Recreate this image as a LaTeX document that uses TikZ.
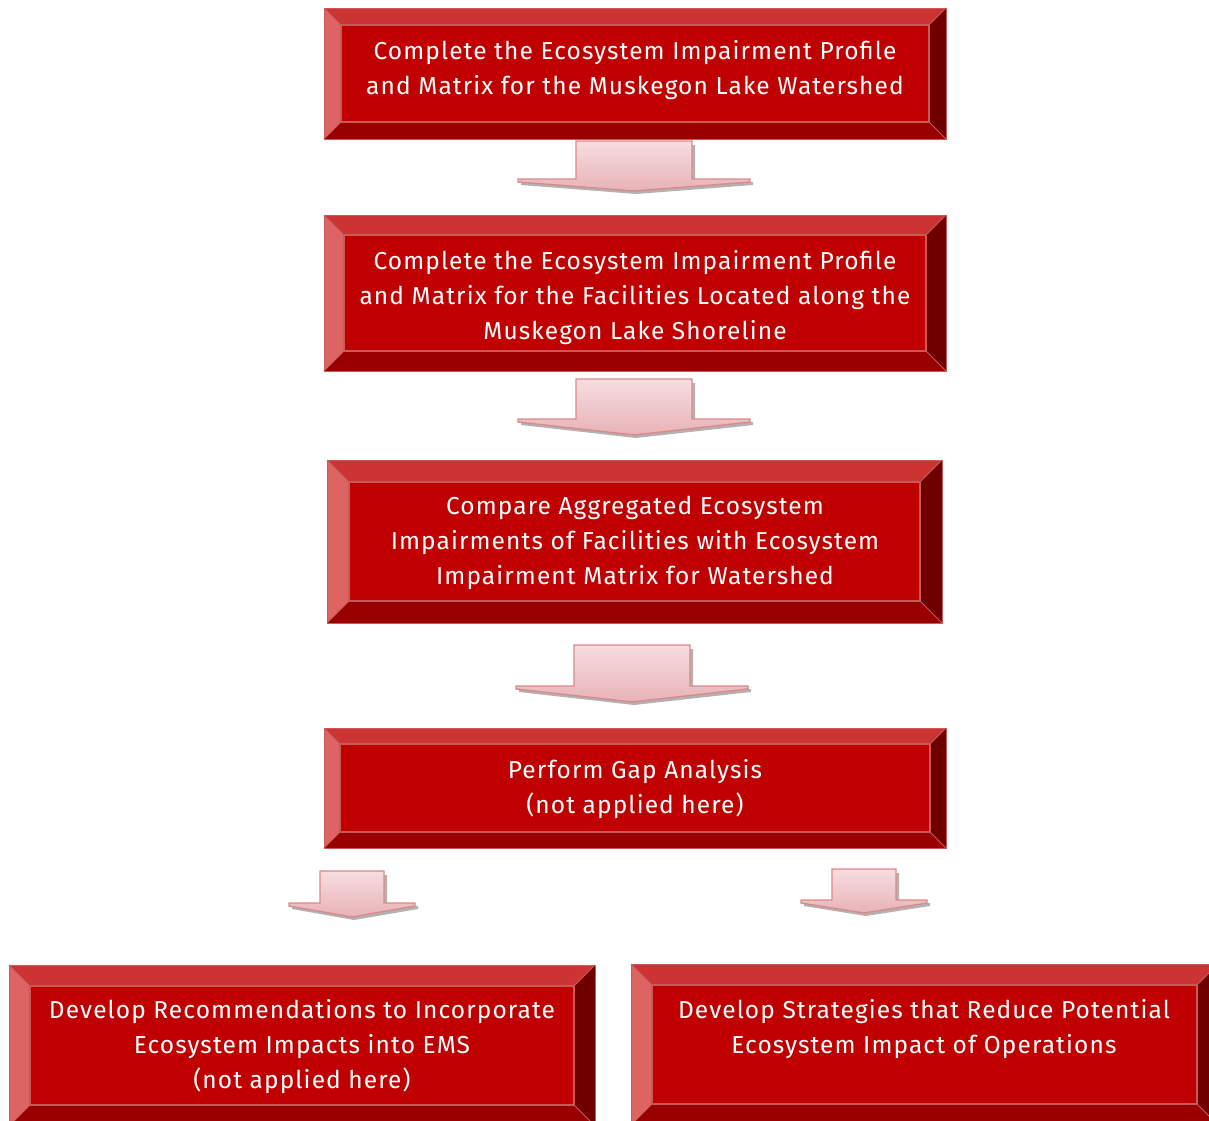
\documentclass[tikz,border=0pt]{standalone}
\usepackage{fontspec}
\setmainfont{Fira Sans}[LetterSpace=4.5]
\definecolor{innerred}{HTML}{C00000}
\definecolor{topbev}{HTML}{CC3333}
\definecolor{leftbev}{HTML}{DE6464}
\definecolor{botbev}{HTML}{990000}
\definecolor{rightbev}{HTML}{6E0000}
\definecolor{edgeline}{HTML}{C95A5A}
\definecolor{arrline}{HTML}{D98A8C}
\definecolor{arrlight}{HTML}{F6DDE0}
\definecolor{arrdark}{HTML}{E8B2B7}
\tikzset{
  boxtext/.style={text=white, align=center, font=\fontsize{24.5}{35}\selectfont, inner sep=0pt},
  innerbox/.style={fill=innerred, draw=edgeline, line width=1.2pt, inner sep=0pt},
  bevel/.style={draw=edgeline, line width=0.8pt, line join=miter},
  arrowbody/.style={top color=arrlight, bottom color=arrdark, draw=arrline, line width=1.4pt, line join=miter},
  arrowshadow/.style={fill=black!55, opacity=0.55},
}
% name, x1, y1, x2, y2, inset
\newcommand{\bevbox}[6]{%
  \fill[topbev] (#2,#3) -- (#4,#3) -- (#4-#6,#3+#6) -- (#2+#6,#3+#6) -- cycle;
  \fill[botbev] (#2,#5) -- (#4,#5) -- (#4-#6,#5-#6) -- (#2+#6,#5-#6) -- cycle;
  \fill[leftbev] (#2,#3) -- (#2+#6,#3+#6) -- (#2+#6,#5-#6) -- (#2,#5) -- cycle;
  \fill[rightbev] (#4,#3) -- (#4-#6,#3+#6) -- (#4-#6,#5-#6) -- (#4,#5) -- cycle;
  \draw[bevel] (#2,#3) rectangle (#4,#5);
  \draw[bevel] (#2,#3) -- (#2+#6,#3+#6) (#4,#3) -- (#4-#6,#3+#6)
               (#2,#5) -- (#2+#6,#5-#6) (#4,#5) -- (#4-#6,#5-#6);
  \node[innerbox, minimum width=#4-#2-2*#6, minimum height=#5-#3-2*#6]
       (#1) at ({(#2+#4)/2},{(#3+#5)/2}) {};
}
% name, cx, bodyhalf, ytop, yneck, headhalf, ytip
\newcommand{\blockarrow}[7]{%
  \fill[arrowshadow] (#2-#3+3,#4+4) -- (#2+#3+3,#4+4) -- (#2+#3+3,#5+3) -- (#2+#6+3,#5+3)
     -- (#2+#6+3,#5+6) -- (#2+2,#7+3) -- (#2-#6+3,#5+6) -- (#2-#6+3,#5+3) -- (#2-#3+3,#5+3) -- cycle;
  \shade[arrowbody] (#2-#3,#4) -- (#2+#3,#4) -- (#2+#3,#5) -- (#2+#6,#5) -- (#2+#6,#5+3)
     -- (#2,#7) -- (#2-#6,#5+3) -- (#2-#6,#5) -- (#2-#3,#5) -- cycle;
  \coordinate (#1) at (#2,{(#4+#7)/2});
}
\begin{document}
\begin{tikzpicture}[x=1pt,y=-1pt]
\useasboundingbox (0,0) rectangle (1209,1120);
\fill[white] (0,0) rectangle (1209,1120);
\clip (0,0) rectangle (1209,1120);

\bevbox{b1}{324}{8}{946}{139}{17}
\node[boxtext] (t1) at (635,70) {Complete the Ecosystem Impairment Profile\\and Matrix for the Muskegon Lake Watershed};

\bevbox{b2}{324}{215}{946}{371}{20}
\begin{scope}
\clip (344,236) rectangle (926,344);
\node[boxtext] (t2) at (635,298) {Complete the Ecosystem Impairment Profile\\and Matrix for the Facilities Located along the\\Muskegon Lake Shoreline};
\end{scope}

\bevbox{b3}{327}{460}{942}{623}{22}
\node[boxtext] (t3) at (635,543) {Compare Aggregated Ecosystem\\Impairments of Facilities with Ecosystem\\Impairment Matrix for Watershed};

\bevbox{b4}{324}{728}{946}{848}{16}
\node[boxtext] (t4) at (635,789) {Perform Gap Analysis\\(not applied here)};

\bevbox{b5}{9}{965}{595}{1126}{21}
\node[boxtext] (t5) at (302,1047) {Develop Recommendations to Incorporate\\Ecosystem Impacts into EMS\\(not applied here)};

\bevbox{b6}{631}{964}{1218}{1125}{21}
\node[boxtext] (t6) at (924,1029) {Develop Strategies that Reduce Potential\\Ecosystem Impact of Operations};

\blockarrow{a1}{634}{58}{141}{179}{116}{191}
\blockarrow{a2}{634}{58}{379}{419}{116}{435}
\blockarrow{a3}{632}{58}{645}{686}{116}{702}
\blockarrow{a4}{352}{32}{871}{903}{63}{917}
\blockarrow{a5}{864}{32}{869}{900}{63}{913}
\end{tikzpicture}
\end{document}
